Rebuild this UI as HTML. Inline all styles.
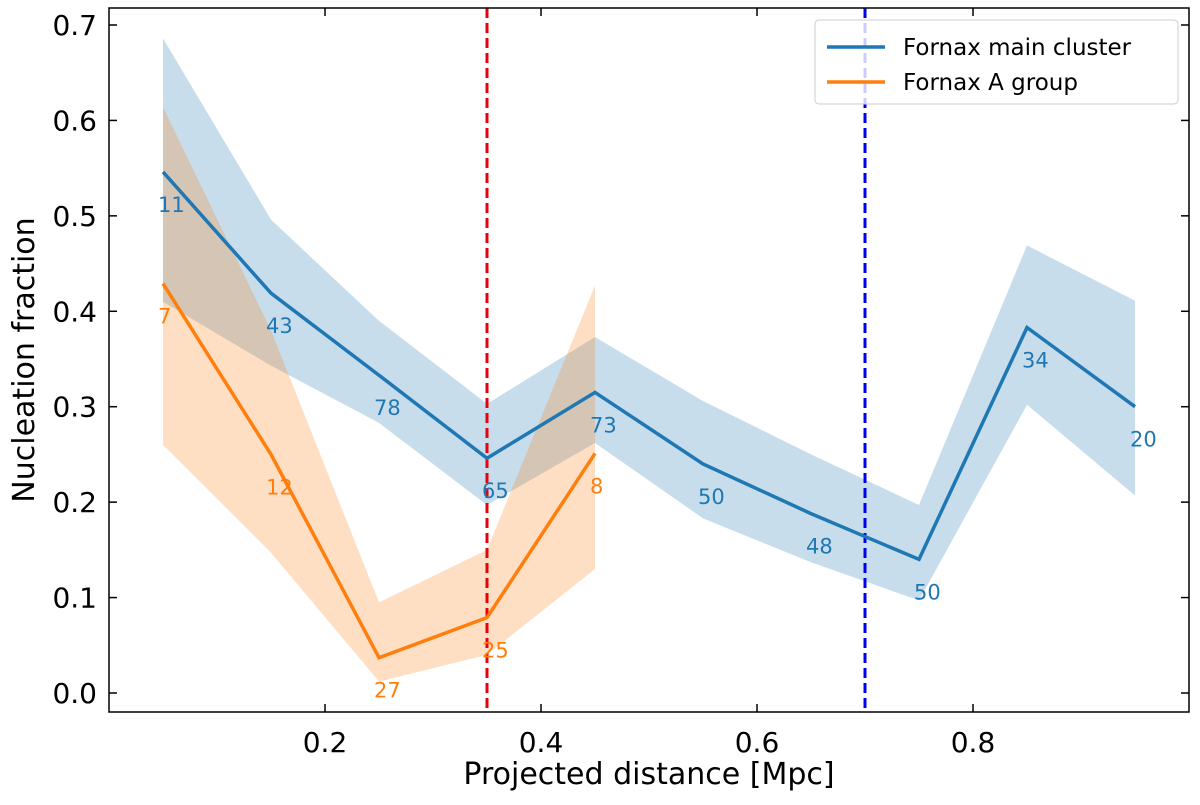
<!DOCTYPE html>
<html><head><meta charset="utf-8"><style>body{margin:0;background:#fff}svg{font-family:"DejaVu Sans","Liberation Sans",sans-serif}</style></head>
<body>
<svg id="chart" width="1200" height="800"></svg>
<script>
const xs=[0.05,0.15,0.25,0.35,0.45,0.55,0.65,0.75,0.85,0.95];
const blueVals=[0.546,0.419,0.333,0.246,0.315,0.24,0.188,0.14,0.383,0.3];
const blueUpper=[0.686,0.496,0.39,0.303,0.373,0.306,0.25,0.197,0.469,0.411];
const blueLower=[0.41,0.343,0.283,0.197,0.262,0.183,0.137,0.097,0.302,0.207];
const blueCounts=["11","43","78","65","73","50","48","50","34","20"];
const orangeXs=[0.05,0.15,0.25,0.35,0.45];
const orangeVals=[0.429,0.25,0.037,0.079,0.251];
const orangeUpper=[0.614,0.38,0.095,0.15,0.427];
const orangeLower=[0.26,0.147,0.012,0.04,0.13];
const orangeCounts=["7","12","27","25","8"];
const xTicks=[0.2,0.4,0.6,0.8];
const yTicks=[0.0,0.1,0.2,0.3,0.4,0.5,0.6,0.7];
const vlines=[{x:0.35,c:"#e8000b",n:"red-threshold-line"},{x:0.7,c:"#0000f0",n:"blue-threshold-line"}];
const L=109,R=1189,T=8,B=712;
const X=v=>L+(v-0)/(1.0)*(R-L);
const Y=v=>693-v*954.3;
const svg=document.getElementById('chart');
const NS="http://www.w3.org/2000/svg";
function mk(t,a,p){const e=document.createElementNS(NS,t);for(const k in a)e.setAttribute(k,a[k]);(p||svg).appendChild(e);return e;}
function band(x,u,l,c,n){let d="M"+x.map((v,i)=>X(v)+","+Y(u[i])).join("L")+"L"+x.slice().reverse().map((v,j)=>{const i=x.length-1-j;return X(v)+","+Y(l[i]);}).join("L")+"Z";
const e=mk('path',{d:d,fill:c,'fill-opacity':0.25,stroke:'none'});

}
band(xs,blueUpper,blueLower,"#1f77b4","blue-uncertainty-band");
band(orangeXs,orangeUpper,orangeLower,"#ff7f0e","orange-uncertainty-band");
vlines.forEach(v=>{const e=mk('line',{x1:X(v.x),x2:X(v.x),y1:T,y2:B,stroke:v.c,'stroke-width':3,'stroke-dasharray':'10,5'});

});
function line(x,y,c,n){const e=mk('polyline',{points:x.map((v,i)=>X(v)+","+Y(y[i])).join(" "),fill:'none',stroke:c,'stroke-width':3.5});

}
line(xs,blueVals,"#1f77b4","fornax-main-cluster-line");
line(orangeXs,orangeVals,"#ff7f0e","fornax-a-group-line");
function labels(x,y,t,c,n){x.forEach((v,i)=>{const e=mk('text',{x:X(v)-5,y:Y(y[i])+40,fill:c,'font-size':21});e.textContent=t[i];

});}
labels(xs,blueVals,blueCounts,"#1f77b4","blue-count-label");
labels(orangeXs,orangeVals,orangeCounts,"#ff7f0e","orange-count-label");
const fr=mk('rect',{x:L,y:T,width:R-L,height:B-T,fill:'none',stroke:'#000','stroke-width':1.5});


xTicks.forEach(t=>{mk('line',{x1:X(t),x2:X(t),y1:B,y2:B-8,stroke:'#000','stroke-width':1.5});mk('line',{x1:X(t),x2:X(t),y1:T,y2:T+8,stroke:'#000','stroke-width':1.5});
const e=mk('text',{x:X(t),y:B+40,'text-anchor':'middle','font-size':28});e.textContent=t.toFixed(1);

});
yTicks.forEach(t=>{mk('line',{x1:L,x2:L+8,y1:Y(t),y2:Y(t),stroke:'#000','stroke-width':1.5});mk('line',{x1:R,x2:R-8,y1:Y(t),y2:Y(t),stroke:'#000','stroke-width':1.5});
const e=mk('text',{x:L-12,y:Y(t)+10,'text-anchor':'end','font-size':28});e.textContent=t.toFixed(1);

});
</script>
<svg width="1200" height="800" style="position:absolute;left:0;top:0">
<text x="649" y="784" text-anchor="middle" font-size="30">Projected distance [Mpc]</text>
<text transform="translate(34,360) rotate(-90)" text-anchor="middle" font-size="30">Nucleation fraction</text>
<g>
<rect x="815" y="20" width="363" height="84" rx="4" fill="#fff" fill-opacity="0.8" stroke="#ccc"/>
<line x1="827" x2="885" y1="47" y2="47" stroke="#1f77b4" stroke-width="3.5"/>
<text x="903" y="55" font-size="23">Fornax main cluster</text>
<line x1="827" x2="885" y1="82" y2="82" stroke="#ff7f0e" stroke-width="3.5"/>
<text x="903" y="90" font-size="23">Fornax A group</text>
</g>
</svg>
</body></html>
